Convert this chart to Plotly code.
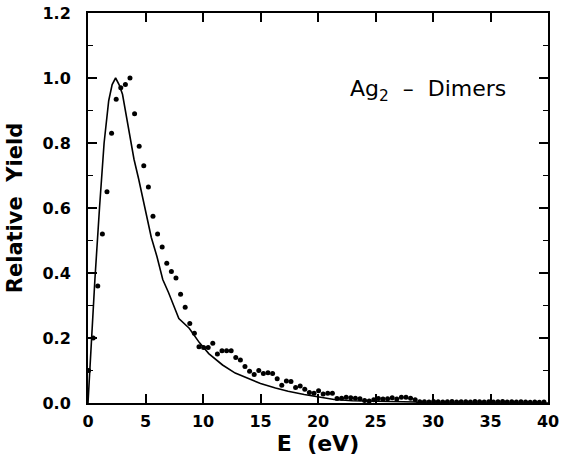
import plotly.graph_objects as go

# Measured yield (dots)
dot_e = [0.05, 0.45, 0.85, 1.25, 1.65, 2.05, 2.45, 2.85, 3.25, 3.65,
         4.05, 4.45, 4.85, 5.25, 5.65, 6.05, 6.45, 6.85, 7.25, 7.65,
         8.05, 8.45, 8.85, 9.25, 9.65, 10.05, 10.45, 10.85, 11.25, 11.65,
         12.05, 12.45, 12.85, 13.25, 13.65, 14.05, 14.45, 14.85, 15.25, 15.65,
         16.05, 16.45, 16.85, 17.25, 17.65, 18.05, 18.45, 18.85, 19.25, 19.65,
         20.05, 20.45, 20.85, 21.25, 21.65, 22.05, 22.45, 22.85, 23.25, 23.65,
         24.05, 24.45, 24.85, 25.25, 25.65, 26.05, 26.45, 26.85, 27.25, 27.65,
         28.05, 28.45, 28.85, 29.25, 29.65, 30.05, 30.45, 30.85, 31.25, 31.65,
         32.05, 32.45, 32.85, 33.25, 33.65, 34.05, 34.45, 34.85, 35.25, 35.65,
         36.05, 36.45, 36.85, 37.25, 37.65, 38.05, 38.45, 38.85, 39.25, 39.65]
dot_y = [0.10, 0.20, 0.36, 0.52, 0.65, 0.83, 0.935, 0.97, 0.98, 1.00,
         0.89, 0.79, 0.73, 0.665, 0.575, 0.52, 0.48, 0.43, 0.405, 0.385,
         0.335, 0.295, 0.245, 0.215, 0.173, 0.171, 0.171, 0.184, 0.151, 0.161,
         0.161, 0.161, 0.14, 0.132, 0.112, 0.098, 0.088, 0.10, 0.091, 0.093,
         0.091, 0.075, 0.055, 0.068, 0.066, 0.048, 0.052, 0.042, 0.032, 0.030,
         0.038, 0.028, 0.030, 0.030, 0.014, 0.015, 0.018, 0.016, 0.015, 0.013,
         0.008, 0.006, 0.010, 0.014, 0.012, 0.013, 0.016, 0.012, 0.018, 0.018,
         0.015, 0.010, 0.004, 0.004, 0.003, 0.005, 0.004, 0.003, 0.004, 0.005,
         0.003, 0.004, 0.004, 0.003, 0.005, 0.004, 0.003, 0.004, 0.003, 0.004,
         0.005, 0.003, 0.004, 0.003, 0.004, 0.003, 0.002, 0.003, 0.002, 0.003]

# Calculated curve (solid line)
line_e = [0.0, 0.3, 0.6, 1.0, 1.4, 1.8, 2.1, 2.4, 2.7, 3.0, 3.5, 4.0, 4.4,
          5.0, 5.5, 6.0, 6.5, 7.0, 7.5, 7.9, 8.8, 9.7, 10.5, 11.7, 12.8,
          14.0, 15.0, 16.3, 17.4, 18.8, 20.3, 21.4, 23.0, 25.0, 27.0, 28.5,
          29.0, 40.0]
line_y = [0.0, 0.2, 0.38, 0.6, 0.8, 0.93, 0.98, 1.0, 0.98, 0.95, 0.85, 0.75, 0.69,
          0.59, 0.51, 0.45, 0.38, 0.34, 0.295, 0.26, 0.23, 0.185, 0.152, 0.117, 0.092,
          0.074, 0.060, 0.046, 0.036, 0.026, 0.018, 0.011, 0.007, 0.006, 0.005, 0.003,
          0.0, 0.0]

x_ticks = [0, 5, 10, 15, 20, 25, 30, 35, 40]
y_ticks = [0.0, 0.2, 0.4, 0.6, 0.8, 1.0, 1.2]
y_tick_text = ["0.0", "0.2", "0.4", "0.6", "0.8", "1.0", "1.2"]

font_family = "DejaVu Sans"

fig = go.Figure()
fig.add_trace(go.Scatter(x=line_e, y=line_y, mode="lines",
                         line=dict(color="black", width=1.6),
                         showlegend=False, hoverinfo="skip"))
fig.add_trace(go.Scatter(x=dot_e, y=dot_y, mode="markers",
                         marker=dict(color="black", size=5),
                         showlegend=False, cliponaxis=False))

fig.add_annotation(x=0.74, y=0.80, xref="paper", yref="paper",
                   text="Ag<sub>2</sub>  \u2013  Dimers", showarrow=False,
                   font=dict(family=font_family, size=22, color="black"),
                   xanchor="center", yanchor="middle")

axis_common = dict(showline=True, linewidth=2, linecolor="black", mirror="ticks",
                   ticks="inside", tickcolor="black", tickwidth=1.5, ticklen=9,
                   showgrid=False, zeroline=False, automargin=False,
                   tickfont=dict(family=font_family, size=16, color="black", weight="bold"))

fig.update_xaxes(range=[0, 40], tickvals=x_ticks, ticklabelstandoff=3,
                 title=dict(text="E  (eV)", standoff=0,
                            font=dict(family=font_family, size=22, color="black", weight="bold")),
                 **axis_common)
fig.update_yaxes(range=[0, 1.2], tickvals=y_ticks, ticktext=y_tick_text,
                 ticklabelstandoff=12,
                 minor=dict(ticks="inside", ticklen=5, tickcolor="black", tickwidth=1.2, dtick=0.1),
                 title=dict(text="Relative  Yield", standoff=14,
                            font=dict(family=font_family, size=21, color="black", weight="bold")),
                 **axis_common)

fig.update_layout(width=563, height=463,
                  margin=dict(l=88, r=15, t=13, b=60),
                  paper_bgcolor="white", plot_bgcolor="white")

fig.write_html("out.html", config={"displayModeBar": False},
               post_script="document.body.style.margin='0px';")
